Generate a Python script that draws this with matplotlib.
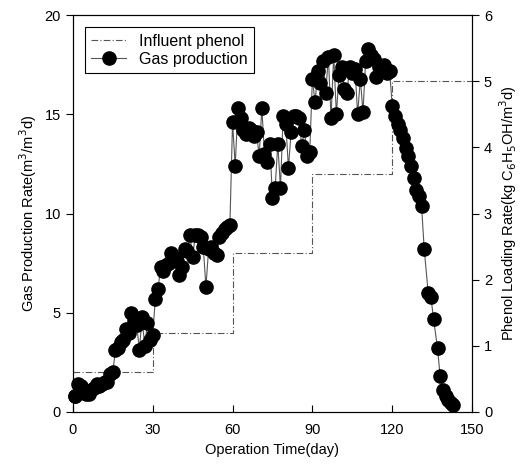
import numpy as np
import matplotlib
matplotlib.use('Agg')
import matplotlib.pyplot as plt

plt.rcParams['font.family'] = ['Liberation Sans', 'DejaVu Sans']

# gas production rate (m3/m3 d)
days_gas = [0.7] + list(range(1, 131)) + [131, 132, 133.5, 134.5, 135.5, 137, 138, 139, 140, 141, 142, 143]
gas = [0.8, 0.8, 1.4, 1.3, 1.0, 0.9, 0.9, 1.1, 1.2, 1.4,
       1.3, 1.4, 1.5, 1.5, 1.9, 2.0, 3.1, 3.2, 3.5, 3.6,
       4.2, 4.0, 5.0, 4.6, 4.4, 3.1, 4.8, 3.3, 4.5, 3.6,
       3.9, 5.7, 6.2, 7.3, 7.1, 7.4, 7.5, 8.0, 7.8, 7.6,
       6.9, 7.3, 8.2, 8.1, 8.9, 7.8, 8.9, 8.9, 8.8, 8.3,
       6.3, 8.2, 8.3, 8.0, 7.9, 8.8, 9.0, 9.2, 9.3, 9.4,
       14.6, 12.4, 15.3, 14.8, 14.2, 14.0, 14.3, 14.2, 13.9, 14.1,
       12.9, 15.3, 13.0, 12.6, 13.5, 10.8, 11.3, 13.5, 11.3, 14.9,
       14.5, 12.3, 14.1, 14.9, 14.9, 14.8, 13.4, 14.2, 12.9, 13.1,
       16.8, 15.6, 17.2, 16.6, 17.7, 16.1, 17.9, 14.8, 18.0, 15.0,
       17.0, 17.4, 16.3, 16.1, 17.4, 17.1, 17.3, 15.0, 16.8, 15.1,
       17.7, 18.3, 18.0, 17.8, 16.9, 17.4, 17.2, 17.5, 17.1, 17.2,
       15.4, 14.9, 14.5, 14.2, 13.8, 13.3, 12.9, 12.4, 11.8, 11.2,
       10.9, 10.4, 8.2, 6.0, 5.8, 4.7, 3.2, 1.8, 1.1, 0.8,
       0.6, 0.45, 0.35]

# influent phenol loading (kg C6H5OH/m3 d), stepwise
step_days = [0, 30, 60, 90, 120, 150]
phenol = [0.6, 1.2, 2.4, 3.6, 5.0, 5.0]

fig = plt.figure(figsize=(5.24, 4.74), dpi=100)
ax = fig.add_axes([0.139, 0.131, 0.762, 0.837])
ax2 = ax.twinx()

l1, = ax2.plot(step_days, phenol, drawstyle='steps-post', color='#555555',
               lw=0.8, ls=(0, (6, 2, 1, 2)), label='Influent phenol')
l2, = ax.plot(days_gas, gas, color='#555555', lw=0.8, marker='o', ms=9.5,
              mfc='black', mec='black', label='Gas production', clip_on=False)

ax.set_zorder(ax2.get_zorder() + 1)
ax.patch.set_visible(False)

ax.set_xlim(0, 150)
ax.set_ylim(0, 20)
ax2.set_ylim(0, 6)
ax.set_xticks([0, 30, 60, 90, 120, 150])
ax.set_yticks([0, 5, 10, 15, 20])
ax2.set_yticks([0, 1, 2, 3, 4, 5, 6])

ax.tick_params(axis='x', direction='in', labelsize=10.5, length=5, pad=8)
ax.tick_params(axis='y', direction='out', labelsize=10.5, length=5)
ax2.tick_params(axis='y', direction='out', labelsize=10.5, length=5)

for a in (ax, ax2):
    for s in a.spines.values():
        s.set_linewidth(0.8)

ax.set_xlabel('Operation Time(day)', fontsize=10.5)
ax.set_ylabel('Gas Production Rate(m$^3$/m$^3$d)', fontsize=10.5)
ax2.set_ylabel('Phenol Loading Rate(kg C$_6$H$_5$OH/m$^3$d)', fontsize=10.5)

leg = ax.legend(handles=[l1, l2], loc='upper left', bbox_to_anchor=(0.01, 0.99),
                fontsize=11.5, fancybox=False, edgecolor='black', framealpha=1,
                handlelength=2.2, borderpad=0.4, labelspacing=0.2)
leg.get_frame().set_linewidth(0.8)

fig.savefig('out.png', dpi=100)
